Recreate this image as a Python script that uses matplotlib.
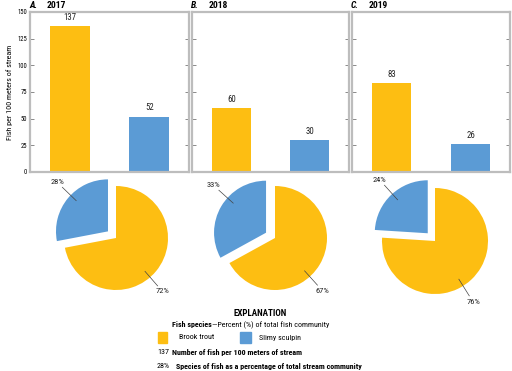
import numpy as np
import matplotlib.pyplot as plt
from matplotlib import font_manager
from matplotlib.patches import Rectangle

# pick a condensed face if one is installed
installed = {f.name for f in font_manager.fontManager.ttflist}
narrow = [n for n in ['Liberation Sans Narrow', 'Roboto Condensed', 'DejaVu Sans Condensed',
                      'Open Sans Condensed'] if n in installed]
plt.rcParams['font.family'] = narrow[:1] + ['Liberation Sans', 'DejaVu Sans']

# data
panels = ['A.', 'B.', 'C.']
years = ['2017', '2018', '2019']
species = ['Brook trout', 'Slimy sculpin']
fish_per_100m = [[137, 52], [60, 30], [83, 26]]
percent = [[72, 28], [67, 33], [76, 24]]

yellow = '#FDBE12'
blue = '#5B9BD5'
frame = '#BDBDBD'

W, H = 512, 371


def fx(px):
    return px / W


def fy(py):
    return 1 - py / H


fig = plt.figure(figsize=(W / 100, H / 100), dpi=100)

# bar panels (pixel boxes: left, right)
bar_boxes = [(30, 189), (192, 349), (352, 510)]
top, bottom = 12, 172

for i, (x0, x1) in enumerate(bar_boxes):
    ax = fig.add_axes([fx(x0), fy(bottom), (x1 - x0) / W, (bottom - top) / H])
    vals = fish_per_100m[i]
    ax.bar([0, 1], vals, width=0.5, color=[yellow, blue], zorder=2)
    for xi, v in enumerate(vals):
        ax.text(xi, v + 4, str(v), ha='center', va='bottom', fontsize=6.3, color='#222222')
    ax.set_xlim(-0.5, 1.5)
    ax.set_ylim(0, 150)
    ax.set_yticks(np.arange(0, 151, 25))
    ax.set_xticks([])
    for s in ax.spines.values():
        s.set_color(frame)
        s.set_linewidth(1.6)
    ax.tick_params(axis='y', direction='in', length=3, width=0.6, color='#777777',
                   left=True, right=True, labelsize=4.8, pad=2)
    if i > 0:
        ax.tick_params(axis='y', labelleft=False)
    else:
        ax.set_ylabel('Fish per 100 meters of stream', fontsize=5.8, labelpad=3)
    fig.text(fx(x0 - 1), fy(6), panels[i], fontsize=6.8, fontweight='bold',
             fontstyle='italic', va='center', ha='left')
    fig.text(fx(x0 + 17), fy(6), years[i], fontsize=6.8, fontweight='bold',
             va='center', ha='left')

# pie charts
pie_centers = [(116, 238, 52), (275, 238, 52), (435, 241, 53)]
label_angles = [(-49, 136), (-48, 138), (-58, 132)]
explode = 0.2
half = 80

for i, (cx, cy, r) in enumerate(pie_centers):
    ax = fig.add_axes([fx(cx - half), fy(cy + half), 2 * half / W, 2 * half / H])
    vals = percent[i]
    wedges, _ = ax.pie(vals, colors=[yellow, blue], startangle=90, counterclock=False,
                       explode=[0, explode], radius=1)
    lim = half / r
    ax.set_xlim(-lim, lim)
    ax.set_ylim(-lim, lim)
    ax.axis('off')
    for w in wedges:
        w.set_clip_on(False)
    blue_mid = 90 + vals[1] * 3.6 / 2
    off = np.array([np.cos(np.radians(blue_mid)), np.sin(np.radians(blue_mid))]) * explode
    centers = [np.array([0.0, 0.0]), off]
    for k in range(2):
        a = np.radians(label_angles[i][k])
        d = np.array([np.cos(a), np.sin(a)])
        c = centers[k]
        p0 = c + d * 0.85
        p1 = c + d * 1.22
        ax.plot([p0[0], p1[0]], [p0[1], p1[1]], color='#444444', lw=0.5, clip_on=False)
        pt = c + d * 1.36
        ax.text(pt[0], pt[1], f'{vals[k]}%', fontsize=6.1, ha='center', va='center',
                color='#222222', clip_on=False)

# explanation
fs = 5.8
fig.text(fx(260), fy(313), 'EXPLANATION', fontsize=6.5, fontweight='bold', ha='center', va='center')
fig.canvas.draw()
renderer = fig.canvas.get_renderer()


def text_after(t, txt, gap=0, **kw):
    bb = t.get_window_extent(renderer)
    x = (bb.x1 + gap) / fig.bbox.width
    y = t.get_position()[1]
    return fig.text(x, y, txt, **kw)


t1 = fig.text(fx(172), fy(325), 'Fish species', fontsize=fs, fontweight='bold', ha='left', va='center')
text_after(t1, '\u2014Percent (%) of total fish community', fontsize=fs, ha='left', va='center')
fig.add_artist(Rectangle((fx(158), fy(343)), 9 / W, 11 / H, color=yellow, transform=fig.transFigure))
fig.text(fx(179), fy(337), species[0], fontsize=fs, ha='left', va='center')
fig.add_artist(Rectangle((fx(240), fy(343)), 11 / W, 11 / H, color=blue, transform=fig.transFigure))
fig.text(fx(259), fy(338), species[1], fontsize=fs, ha='left', va='center')
fig.text(fx(157), fy(352), '137', fontsize=fs, ha='left', va='center')
fig.text(fx(172), fy(352), 'Number of fish per 100 meters of stream', fontsize=fs,
         fontweight='bold', ha='left', va='center')
fig.text(fx(157), fy(366), '28%', fontsize=fs, ha='left', va='center')
fig.text(fx(176), fy(366), 'Species of fish as a percentage of total stream community',
         fontsize=fs, fontweight='bold', ha='left', va='center')

fig.savefig('out.png', dpi=100)
